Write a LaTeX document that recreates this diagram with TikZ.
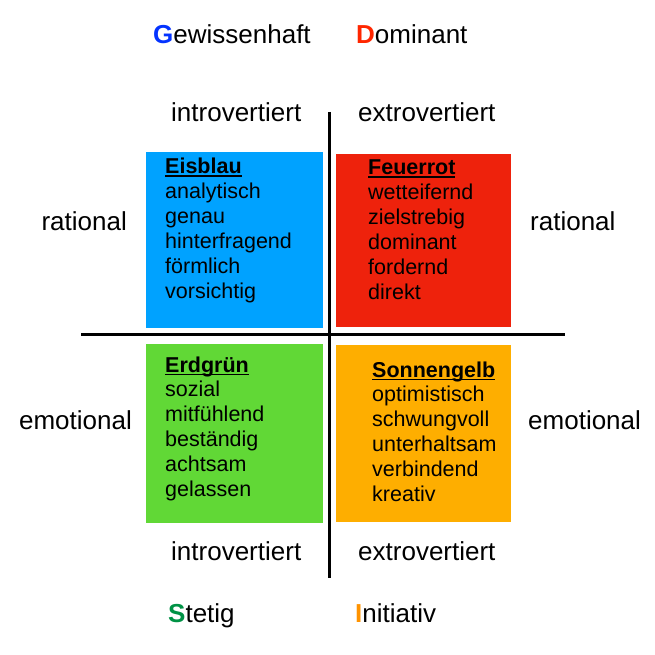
\documentclass[tikz,border=0pt]{standalone}
\usepackage{xcolor}
\usepackage{fontspec}
\setmainfont{Liberation Sans}
\usepackage{tikz}

\definecolor{eisblau}{RGB}{0,162,255}
\definecolor{feuerrot}{RGB}{238,34,12}
\definecolor{erdgruen}{RGB}{97,216,54}
\definecolor{sonnengelb}{RGB}{254,174,0}
\definecolor{gblau}{RGB}{4,51,255}
\definecolor{drot}{RGB}{255,38,0}
\definecolor{sgruen}{RGB}{0,146,69}
\definecolor{iorange}{RGB}{255,147,0}

\newcommand{\strich}[1]{\setbox0\hbox{\textbf{#1}}\rlap{\rule[-2.6pt]{\wd0}{1.1pt}}\box0}

\begin{document}
\begin{tikzpicture}[x=1pt, y=-1pt,
    beschr/.style={font=\fontsize{26}{30}\selectfont, inner sep=0pt},
    word/.style={font=\fontsize{21.5}{25}\selectfont, inner sep=0pt, anchor=base west}]
      \useasboundingbox (0,0) rectangle (655,655);
      % quadrants
      \fill[eisblau] (146,152) rectangle (323,328);
      \fill[feuerrot] (336,154) rectangle (511,327);
      \fill[erdgruen] (146,344) rectangle (323,523);
      \fill[sonnengelb] (336,345) rectangle (511,522);
      % axes
      \coordinate (oben) at (329,112);
      \coordinate (unten) at (329,578);
      \coordinate (links) at (81,334);
      \coordinate (rechts) at (565,334);
      \draw[line width=3pt] (oben) -- (unten);
      \draw[line width=3pt] (links) -- (rechts);
      % types
      \node[beschr, anchor=base west] (gew) at (153,44) {\textcolor{gblau}{\textbf{G}}ewissenhaft};
      \node[beschr, anchor=base west] (dom) at (356,44) {\textcolor{drot}{\textbf{D}}ominant};
      \node[beschr, anchor=base west] (ste) at (168,622) {\textcolor{sgruen}{\textbf{S}}tetig};
      \node[beschr, anchor=base west] (ini) at (355,622) {\textcolor{iorange}{\textbf{I}}nitiativ};
      % sides
      \node[beschr, anchor=base west] (intro1) at (171,122) {introvertiert};
      \node[beschr, anchor=base west] (extro1) at (358,122) {extrovertiert};
      \node[beschr, anchor=base west] (intro2) at (171,560) {introvertiert};
      \node[beschr, anchor=base west] (extro2) at (358,560) {extrovertiert};
      \node[beschr, anchor=base east] (rat1) at (127,230) {rational};
      \node[beschr, anchor=base west] (rat2) at (530,230) {rational};
      \node[beschr, anchor=base east] (emo1) at (132,429) {emotional};
      \node[beschr, anchor=base west] (emo2) at (528,429) {emotional};
      % words
      \node[word] (eis-0) at (165,174) {\strich{Eisblau}};
      \foreach \w [count=\i] in {analytisch, genau, hinterfragend, förmlich, vorsichtig}
        \node[word] (eis-\i) at (165,174+24.8*\i) {\w};
      \node[word] (feu-0) at (368,175) {\strich{Feuerrot}};
      \foreach \w [count=\i] in {wetteifernd, zielstrebig, dominant, fordernd, direkt}
        \node[word] (feu-\i) at (368,175+24.8*\i) {\w};
      \node[word] (erd-0) at (165,372) {\strich{Erdgrün}};
      \foreach \w [count=\i] in {sozial, mitfühlend, beständig, achtsam, gelassen}
        \node[word] (erd-\i) at (165,372+24.8*\i) {\w};
      \node[word] (son-0) at (372,377) {\strich{Sonnengelb}};
      \foreach \w [count=\i] in {optimistisch, schwungvoll, unterhaltsam, verbindend, kreativ}
        \node[word] (son-\i) at (372,377+24.8*\i) {\w};
    \end{tikzpicture}
\end{document}
